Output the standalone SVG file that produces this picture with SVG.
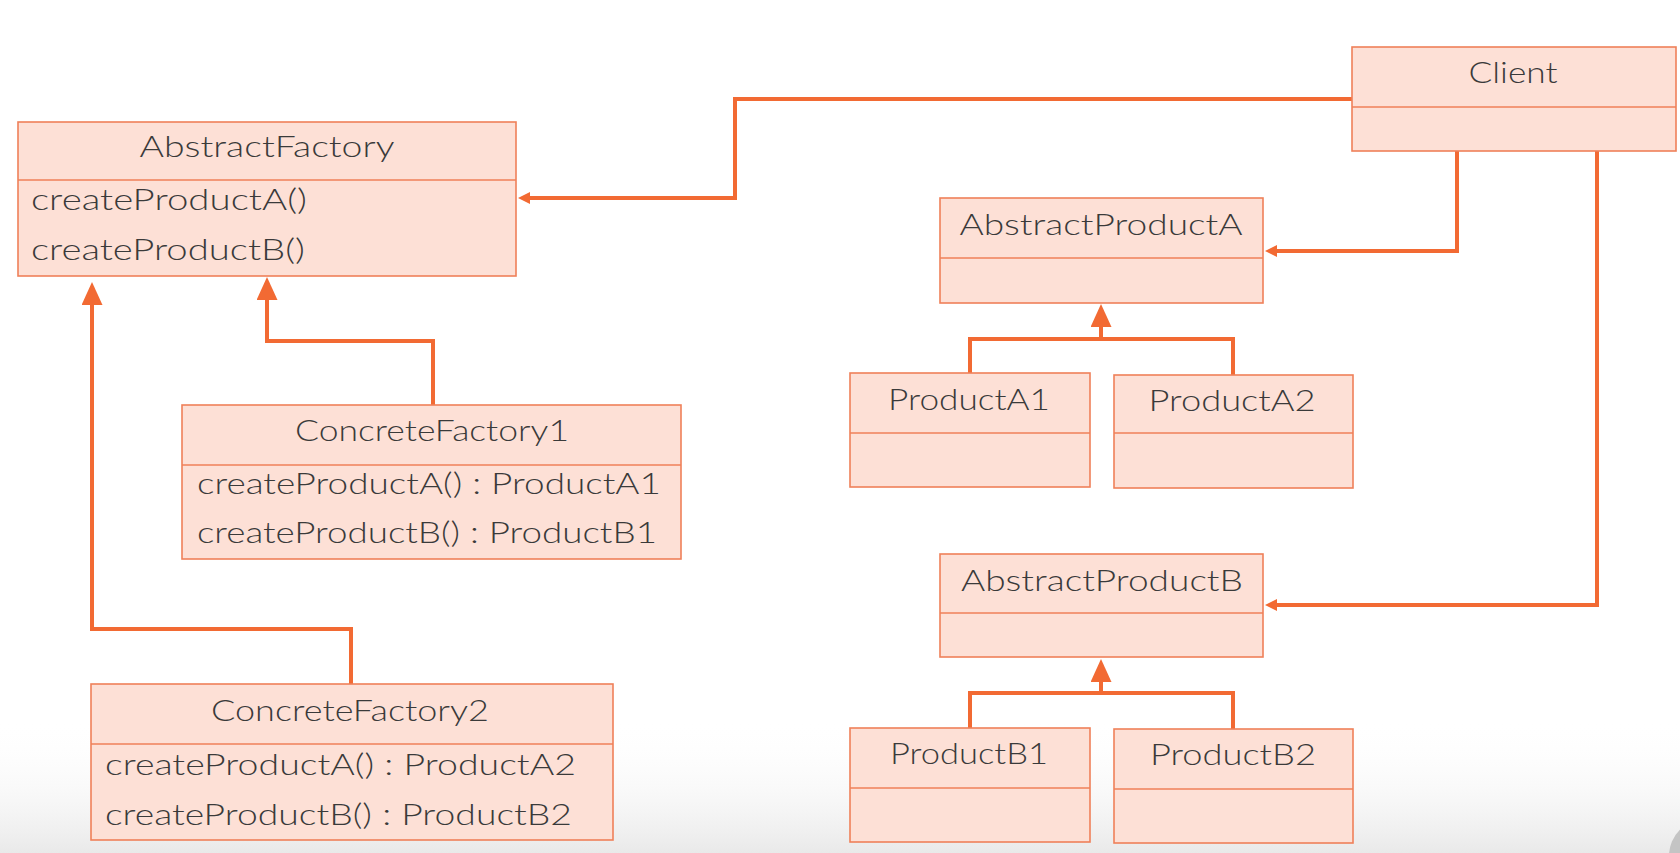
<svg xmlns="http://www.w3.org/2000/svg" width="1680" height="853" viewBox="0 0 1680 853">
<defs>
<style>
.box{fill:#fde0d6;stroke:#ef8059;stroke-width:1.6}
.div{stroke:#ef8059;stroke-width:1.6;fill:none}
.t{font-family:Lato,"Noto Sans","Liberation Sans",sans-serif;font-weight:300;font-size:29px;fill:#3a3a3a}
.c{text-anchor:middle}
.edge{fill:none;stroke:#f26a33;stroke-width:4;stroke-linejoin:miter}
</style>
<linearGradient id="bg" x1="0" y1="0" x2="0" y2="1">
<stop offset="0" stop-color="#ffffff" stop-opacity="0"/>
<stop offset="1" stop-color="#e9e9e9"/>
</linearGradient>
<marker id="arr" markerUnits="userSpaceOnUse" markerWidth="14" markerHeight="12" refX="2" refY="6" orient="auto">
<path d="M0,0 L12,6 L0,12 z" fill="#f26a33"/>
</marker>
<marker id="tri" markerUnits="userSpaceOnUse" markerWidth="24" markerHeight="22" refX="3" refY="10.5" orient="auto">
<path d="M0,0 L23,10.5 L0,21 z" fill="#f26a33"/>
</marker>
</defs>
<rect x="0" y="0" width="1680" height="853" fill="#ffffff"/>
<rect x="0" y="720" width="1680" height="133" fill="url(#bg)"/>
<circle cx="1706" cy="856" r="37" fill="#c4c4c4"/>

<g id="connectors">
<path class="edge" d="M1352,99 H735 V198 H528" marker-end="url(#arr)"/>
<path class="edge" d="M1457,151 V251 H1275" marker-end="url(#arr)"/>
<path class="edge" d="M1597,151 V605 H1275" marker-end="url(#arr)"/>
<path class="edge" d="M433,405 V341 H267 V297" marker-end="url(#tri)"/>
<path class="edge" d="M351,684 V629 H92 V302" marker-end="url(#tri)"/>
<path class="edge" d="M970,373 V339 H1233 V375"/>
<path class="edge" d="M1101,339 V324" marker-end="url(#tri)"/>
<path class="edge" d="M970,728 V693 H1233 V729"/>
<path class="edge" d="M1101,693 V679" marker-end="url(#tri)"/>
</g>

<g id="AbstractFactory">
<rect class="box" x="18" y="122" width="498" height="154"/>
<line class="div" x1="18" y1="180" x2="516" y2="180"/>
<text class="t c" x="267" y="157" textLength="255" lengthAdjust="spacingAndGlyphs">AbstractFactory</text>
<text class="t" x="31" y="210" textLength="276" lengthAdjust="spacingAndGlyphs">createProductA()</text>
<text class="t" x="31" y="260" textLength="274" lengthAdjust="spacingAndGlyphs">createProductB()</text>
</g>

<g id="ConcreteFactory1">
<rect class="box" x="182" y="405" width="499" height="154"/>
<line class="div" x1="182" y1="465" x2="681" y2="465"/>
<text class="t c" x="432" y="441" textLength="274" lengthAdjust="spacingAndGlyphs">ConcreteFactory1</text>
<text class="t" x="197" y="494" textLength="464" lengthAdjust="spacingAndGlyphs">createProductA() : ProductA1</text>
<text class="t" x="197" y="543" textLength="460" lengthAdjust="spacingAndGlyphs">createProductB() : ProductB1</text>
</g>

<g id="ConcreteFactory2">
<rect class="box" x="91" y="684" width="522" height="156"/>
<line class="div" x1="91" y1="744" x2="613" y2="744"/>
<text class="t c" x="350" y="721" textLength="278" lengthAdjust="spacingAndGlyphs">ConcreteFactory2</text>
<text class="t" x="105" y="775" textLength="471" lengthAdjust="spacingAndGlyphs">createProductA() : ProductA2</text>
<text class="t" x="105" y="825" textLength="467" lengthAdjust="spacingAndGlyphs">createProductB() : ProductB2</text>
</g>

<g id="Client">
<rect class="box" x="1352" y="47" width="324" height="104"/>
<line class="div" x1="1352" y1="107" x2="1676" y2="107"/>
<text class="t c" x="1513" y="83" textLength="89" lengthAdjust="spacingAndGlyphs">Client</text>
</g>

<g id="AbstractProductA">
<rect class="box" x="940" y="198" width="323" height="105"/>
<line class="div" x1="940" y1="258" x2="1263" y2="258"/>
<text class="t c" x="1101" y="235" textLength="283" lengthAdjust="spacingAndGlyphs">AbstractProductA</text>
</g>

<g id="ProductA1">
<rect class="box" x="850" y="373" width="240" height="114"/>
<line class="div" x1="850" y1="433" x2="1090" y2="433"/>
<text class="t c" x="969" y="410" textLength="162" lengthAdjust="spacingAndGlyphs">ProductA1</text>
</g>

<g id="ProductA2">
<rect class="box" x="1114" y="375" width="239" height="113"/>
<line class="div" x1="1114" y1="433" x2="1353" y2="433"/>
<text class="t c" x="1232" y="411" textLength="167" lengthAdjust="spacingAndGlyphs">ProductA2</text>
</g>

<g id="AbstractProductB">
<rect class="box" x="940" y="554" width="323" height="103"/>
<line class="div" x1="940" y1="613" x2="1263" y2="613"/>
<text class="t c" x="1102" y="591" textLength="282" lengthAdjust="spacingAndGlyphs">AbstractProductB</text>
</g>

<g id="ProductB1">
<rect class="box" x="850" y="728" width="240" height="114"/>
<line class="div" x1="850" y1="788" x2="1090" y2="788"/>
<text class="t c" x="969" y="764" textLength="158" lengthAdjust="spacingAndGlyphs">ProductB1</text>
</g>

<g id="ProductB2">
<rect class="box" x="1114" y="729" width="239" height="114"/>
<line class="div" x1="1114" y1="789" x2="1353" y2="789"/>
<text class="t c" x="1233" y="765" textLength="166" lengthAdjust="spacingAndGlyphs">ProductB2</text>
</g>
</svg>
